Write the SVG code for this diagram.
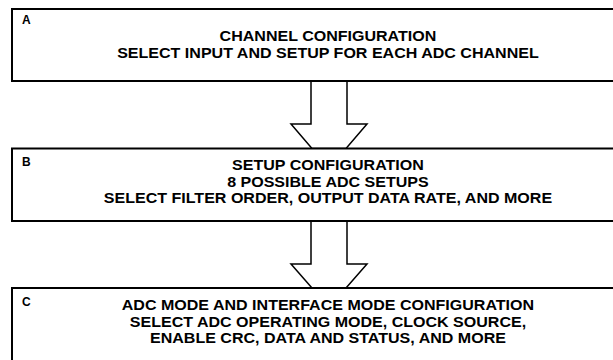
<svg xmlns="http://www.w3.org/2000/svg" width="613" height="360" viewBox="0 0 613 360">
<style>
.box{fill:#fff;stroke:#000;stroke-width:2}
.arr{fill:#fff;stroke:#000;stroke-width:1.5;stroke-linejoin:miter}
.t{font-family:"Liberation Sans",Arial,sans-serif;font-weight:bold;font-size:15px;text-anchor:middle;fill:#000}
.l{font-family:"Liberation Sans",Arial,sans-serif;font-weight:bold;font-size:12px;fill:#000}
</style>
<rect width="613" height="360" fill="#fff"/>
<g id="connectors">
<polygon class="arr" points="311,81 347,81 347,124 367,124 346,148.5 312,148.5 291,124 311,124"/>
<polygon class="arr" points="311,221 347,221 347,264 367,264 346,288 312,288 291,264 311,264"/>
</g>
<g id="nodeA">
<rect class="box" x="12" y="9" width="620" height="72"/>
<text class="l" x="22" y="24">A</text>
<g transform="scale(1.07 1)">
<text class="t" x="306.5" y="41">CHANNEL CONFIGURATION</text>
<text class="t" x="306.5" y="58">SELECT INPUT AND SETUP FOR EACH ADC CHANNEL</text>
</g>
</g>
<g id="nodeB">
<rect class="box" x="12" y="148.5" width="620" height="72.5"/>
<text class="l" x="22" y="166">B</text>
<g transform="scale(1.07 1)">
<text class="t" x="306.5" y="170.5">SETUP CONFIGURATION</text>
<text class="t" x="306.5" y="187">8 POSSIBLE ADC SETUPS</text>
<text class="t" x="306.5" y="203.5">SELECT FILTER ORDER, OUTPUT DATA RATE, AND MORE</text>
</g>
</g>
<g id="nodeC">
<rect class="box" x="12" y="288" width="620" height="90"/>
<text class="l" x="22" y="306">C</text>
<g transform="scale(1.07 1)">
<text class="t" x="306.5" y="310.5">ADC MODE AND INTERFACE MODE CONFIGURATION</text>
<text class="t" x="306.5" y="327">SELECT ADC OPERATING MODE, CLOCK SOURCE,</text>
<text class="t" x="306.5" y="343.5">ENABLE CRC, DATA AND STATUS, AND MORE</text>
</g>
</g>
</svg>
